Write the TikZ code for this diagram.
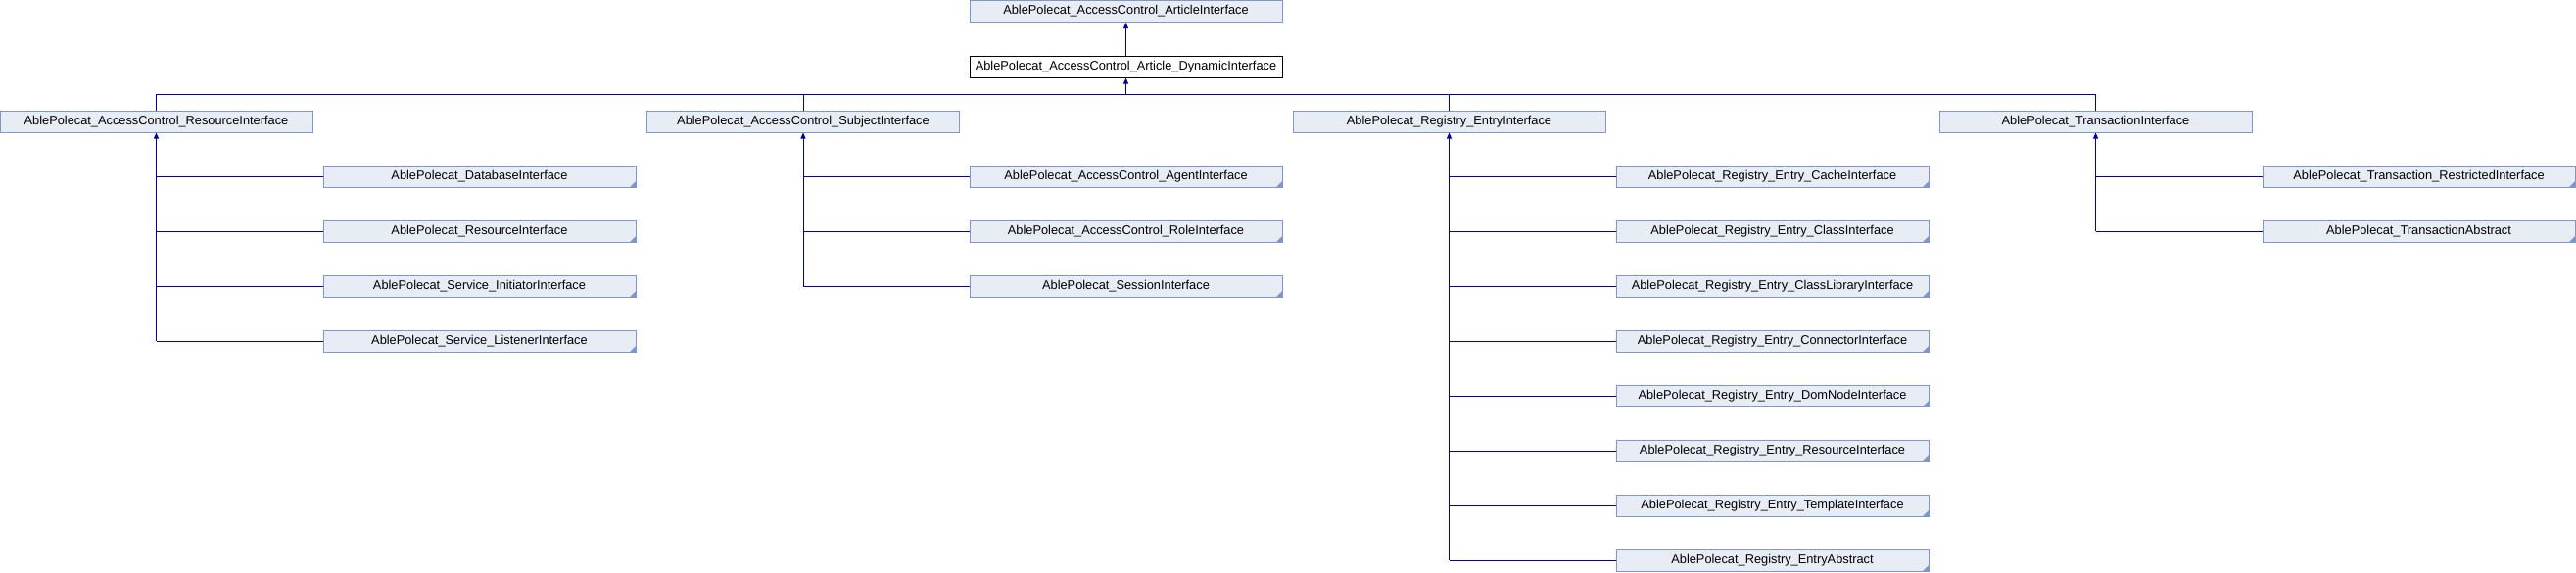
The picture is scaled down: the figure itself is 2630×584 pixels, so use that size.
\documentclass[tikz,border=0pt]{standalone}
\usepackage{fontspec}
\setmainfont{Liberation Sans}
\usetikzlibrary{arrows.meta,calc}

\definecolor{boxfill}{HTML}{E8ECF5}
\definecolor{boxline}{HTML}{7F97CB}
\definecolor{linkcol}{HTML}{000099}

\tikzset{
  cls/.style={draw=boxline,fill=boxfill,line width=1pt,minimum width=319pt,
    minimum height=22pt,inner sep=0pt,font=\fontsize{12.8}{14}\selectfont},
  leaf/.style={cls,path picture={\fill[boxline] (path picture bounding box.south east)
    -- ++(-6pt,0pt) -- ++(6pt,6pt) -- cycle;}},
  link/.style={draw=linkcol,line width=1pt},
  inh/.style={link,-{Triangle[length=6pt,width=5pt]}}
}

\begin{document}
\begin{tikzpicture}[x=1pt,y=-1pt]
\useasboundingbox (0,0) rectangle (2630,584);

\node[cls] (art) at (1149.5,11.5) {AblePolecat\_AccessControl\_ArticleInterface};
\node[cls,draw=black,fill=white] (dyn) at (1149.5,68) {AblePolecat\_AccessControl\_Article\_DynamicInterface};
\draw[inh] (dyn.north) -- (art.south);
\coordinate (bar) at (1149.5,96);
\draw[inh] (bar) -- (dyn.south);

% second row
\node[cls] (res) at (159.5,124) {AblePolecat\_AccessControl\_ResourceInterface};
\node[cls] (sbj) at (820,124) {AblePolecat\_AccessControl\_SubjectInterface};
\node[cls] (reg) at (1479.5,124) {AblePolecat\_Registry\_EntryInterface};
\node[cls] (trn) at (2139.5,124) {AblePolecat\_TransactionInterface};
\draw[link] (res.north) |- (trn.north |- bar) -- (trn.north);
\draw[link] (sbj.north) -- (sbj.north |- bar);
\draw[link] (reg.north) -- (reg.north |- bar);

% resource children
\foreach \n/\t in {1/DatabaseInterface,2/ResourceInterface,3/Service\_InitiatorInterface,4/Service\_ListenerInterface}{
  \node[leaf] (res\n) at (489.5,{124+56*\n}) {AblePolecat\_\t};
  \draw[link] (res\n.west) -- (res\n.west -| res.south);
}
\draw[inh] (res.south |- res4.west) -- (res.south);

% subject children
\foreach \n/\t in {1/AccessControl\_AgentInterface,2/AccessControl\_RoleInterface,3/SessionInterface}{
  \node[leaf] (sbj\n) at (1149.5,{124+56*\n}) {AblePolecat\_\t};
  \draw[link] (sbj\n.west) -- (sbj\n.west -| sbj.south);
}
\draw[inh] (sbj.south |- sbj3.west) -- (sbj.south);

% registry children
\foreach \n/\t in {1/Entry\_CacheInterface,2/Entry\_ClassInterface,3/Entry\_ClassLibraryInterface,
  4/Entry\_ConnectorInterface,5/Entry\_DomNodeInterface,6/Entry\_ResourceInterface,
  7/Entry\_TemplateInterface,8/EntryAbstract}{
  \node[leaf] (reg\n) at (1809.5,{124+56*\n}) {AblePolecat\_Registry\_\t};
  \draw[link] (reg\n.west) -- (reg\n.west -| reg.south);
}
\draw[inh] (reg.south |- reg8.west) -- (reg.south);

% transaction children
\foreach \n/\t in {1/Transaction\_RestrictedInterface,2/TransactionAbstract}{
  \node[leaf] (trn\n) at (2469.5,{124+56*\n}) {AblePolecat\_\t};
  \draw[link] (trn\n.west) -- (trn\n.west -| trn.south);
}
\draw[inh] (trn.south |- trn2.west) -- (trn.south);

\end{tikzpicture}
\end{document}
